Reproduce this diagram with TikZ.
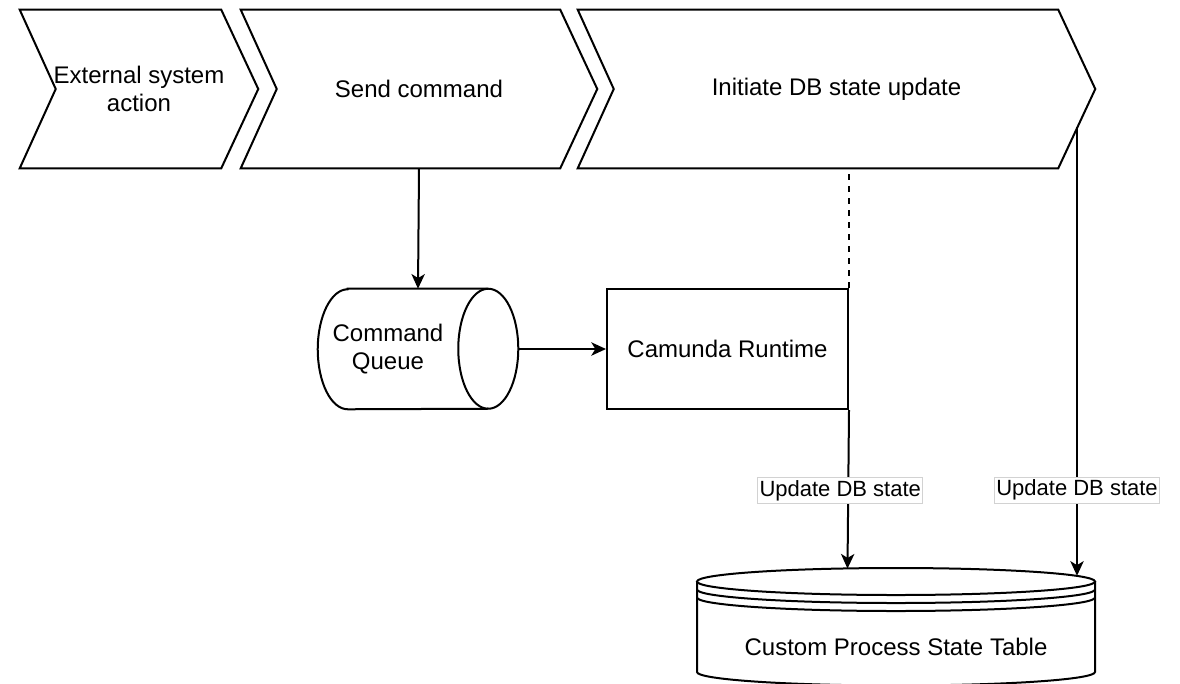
\documentclass[tikz,border=0pt]{standalone}
\usepackage{fontspec}
\setmainfont{Liberation Sans}
\usetikzlibrary{arrows.meta,calc}
\begin{document}
\begin{tikzpicture}[x=0.75pt,y=-0.75pt,
  shapeline/.style={draw=black,line width=1.5pt,line join=miter},
  nodefont/.style={font=\fontsize{18pt}{21.5pt}\selectfont},
  chev/.style={draw=none,inner sep=0pt,minimum height=118.5pt,nodefont,align=center},
  conn/.style={line width=1.5pt,-{Stealth[length=11pt,width=10pt,inset=3pt]}},
  dashconn/.style={line width=1.5pt,dash pattern=on 4.5pt off 4.5pt,dash phase=4.5pt},
  edgelabel/.style={fill=white,draw=gray!35,line width=0.75pt,inner xsep=1.5pt,inner ysep=2pt,
    font=\fontsize{16.5pt}{19pt}\selectfont}
]
\useasboundingbox (0,0) rectangle (1180,683);

% ---- chevrons ----
\node[chev,minimum width=178.5pt] (ext) at (139,89) {External system\\action};
\node[chev,minimum width=267pt] (send) at (419,89) {Send command};
\node[chev,minimum width=387.75pt] (init) at (836.5,89) {Initiate DB state update};
\foreach \n in {ext,send,init}{
  \draw[shapeline] (\n.north west) -- ($(\n.north east)+(-37,0)$) -- (\n.east)
    -- ($(\n.south east)+(-37,0)$) -- (\n.south west) -- ($(\n.west)+(36,0)$) -- cycle;
}

% ---- command queue (horizontal cylinder) ----
\node[draw=none,minimum width=150pt,minimum height=90pt,inner sep=0pt] (queue) at (418,349) {};
\draw[shapeline,fill=white] ($(queue.north west)+(30,0)$) -- ($(queue.north east)+(-30,0)$)
  arc[start angle=90,end angle=-90,x radius=22.5pt,y radius=45pt]
  -- ($(queue.south west)+(30,0)$)
  arc[start angle=270,end angle=90,x radius=22.5pt,y radius=45pt] -- cycle;
\draw[shapeline] ($(queue.north east)+(-30,0)$)
  arc[start angle=90,end angle=270,x radius=22.5pt,y radius=45pt];
\node[nodefont,align=center,inner sep=0pt] (queuelbl) at (388,349) {Command\\Queue};

% ---- camunda runtime ----
\node[shapeline,fill=white,minimum width=180.75pt,minimum height=90pt,inner sep=0pt,nodefont] (cam) at (727.5,349) {Camunda Runtime};

% ---- datastore ----
\node[draw=none,minimum width=298.5pt,minimum height=90pt,inner sep=0pt] (db) at (896,627) {};
\draw[shapeline,fill=white] (697,581.5) -- (697,672)
  arc[start angle=180,end angle=360,x radius=149.25pt,y radius=10.125pt]
  -- (1095,581.5);
\draw[shapeline,fill=white] (896,581.5) ellipse[x radius=149.25pt,y radius=10.125pt];
\draw[shapeline] (697,589.5) arc[start angle=180,end angle=360,x radius=149.25pt,y radius=10.125pt];
\draw[shapeline] (697,597.5) arc[start angle=180,end angle=360,x radius=149.25pt,y radius=10.125pt];
\node[nodefont,inner sep=0pt] (dblbl) at (896,647) {Custom Process State Table};

% ---- connectors ----
\coordinate (dtop) at (init.south -| cam.north east);
\coordinate (rstart) at (1077,127.4);
\coordinate (dbin1) at (847.5,568.6);
\coordinate (dbin2) at (1077,575.8);

\draw[conn] (send.south) -- (queue.north);
\draw[conn] (queue.east) -- (cam.west);
\draw[dashconn] (dtop) -- (cam.north east);
\draw[conn] (cam.south east) -- (dbin1)
  node[edgelabel,pos=0.51,xshift=-6pt] (lbl1) {Update DB state};
\draw[conn] (rstart) -- (dbin2)
  node[edgelabel,pos=0.809] (lbl2) {Update DB state};
\end{tikzpicture}
\end{document}
